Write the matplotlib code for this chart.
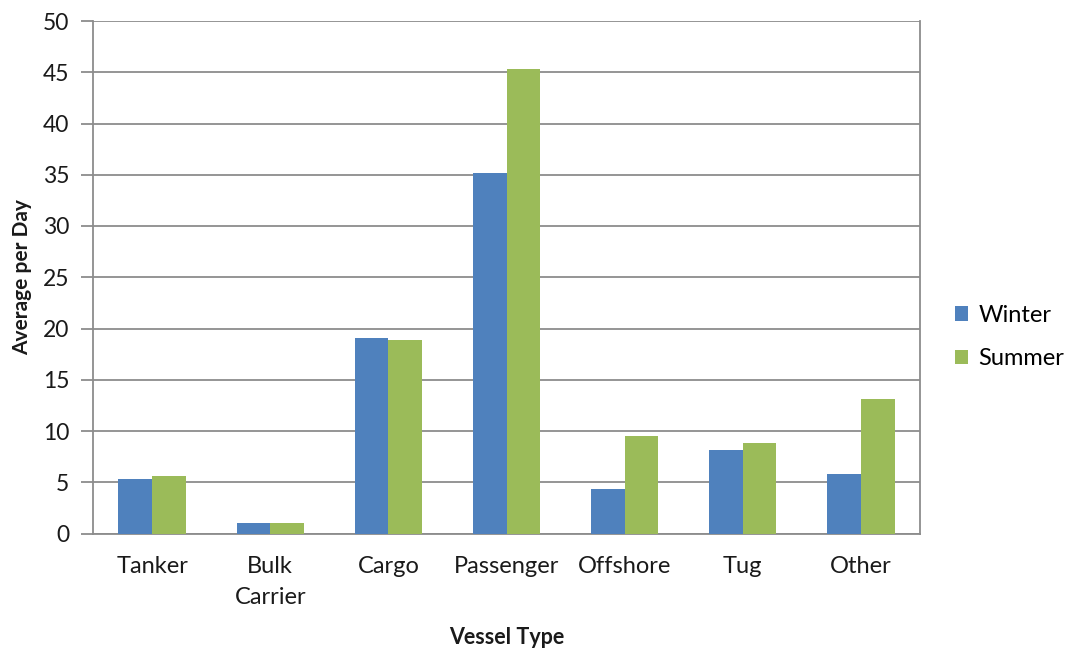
import matplotlib
matplotlib.use("Agg")
import matplotlib.pyplot as plt
import numpy as np

categories = ["Tanker", "Bulk\nCarrier", "Cargo", "Passenger", "Offshore", "Tug", "Other"]
winter = [5.3, 1.0, 19.1, 35.2, 4.3, 8.1, 5.8]
summer = [5.6, 1.0, 18.9, 45.3, 9.5, 8.8, 13.1]
yticks = [0, 5, 10, 15, 20, 25, 30, 35, 40, 45, 50]

plt.rcParams['font.family'] = ['Lato', 'DejaVu Sans']

fig = plt.figure(figsize=(10.73, 6.5), dpi=100)
ax = fig.add_axes([93 / 1073, 1 - 533.5 / 650, (920 - 93) / 1073, (533.5 - 21) / 650])

x = np.arange(len(categories))
w = 0.285
ax.bar(x - w / 2, winter, w, color="#4F81BD", label="Winter", zorder=3)
ax.bar(x + w / 2, summer, w, color="#9BBB59", label="Summer", zorder=3)

ax.set_xlim(-0.5, len(categories) - 0.5)
ax.set_ylim(0, 50)
ax.set_yticks(yticks)
ax.yaxis.grid(True, color="#8C8C8C", linewidth=1.3, zorder=0)
ax.set_axisbelow(True)

for side in ["left", "right", "bottom"]:
    ax.spines[side].set_color("#8C8C8C")
    ax.spines[side].set_linewidth(1.3)
ax.spines["top"].set_visible(False)

ax.set_xticks(x)
ax.set_xticklabels(categories, fontsize=17, color="#1a1a1a", linespacing=1.6, va="top")
ax.tick_params(axis="x", length=0, pad=16)
ax.tick_params(axis="y", length=9, width=1.3, color="#8C8C8C", labelsize=16.5,
               labelcolor="#1a1a1a", pad=8)

ax.set_ylabel("Average per Day", fontsize=15, fontweight="bold", color="#1a1a1a", labelpad=8)
fig.text((93 + 920) / 2 / 1073, 1 - 637 / 650, "Vessel Type", fontsize=15.5,
         fontweight="bold", color="#1a1a1a", ha="center", va="center")

fig.legend(loc="center left", bbox_to_anchor=(955 / 1073, 1 - 337 / 650), frameon=False,
           fontsize=17, handlelength=0.55, handleheight=0.55, handletextpad=0.45,
           labelspacing=0.95, borderpad=0, borderaxespad=0)

fig.savefig("out.png", dpi=100)
